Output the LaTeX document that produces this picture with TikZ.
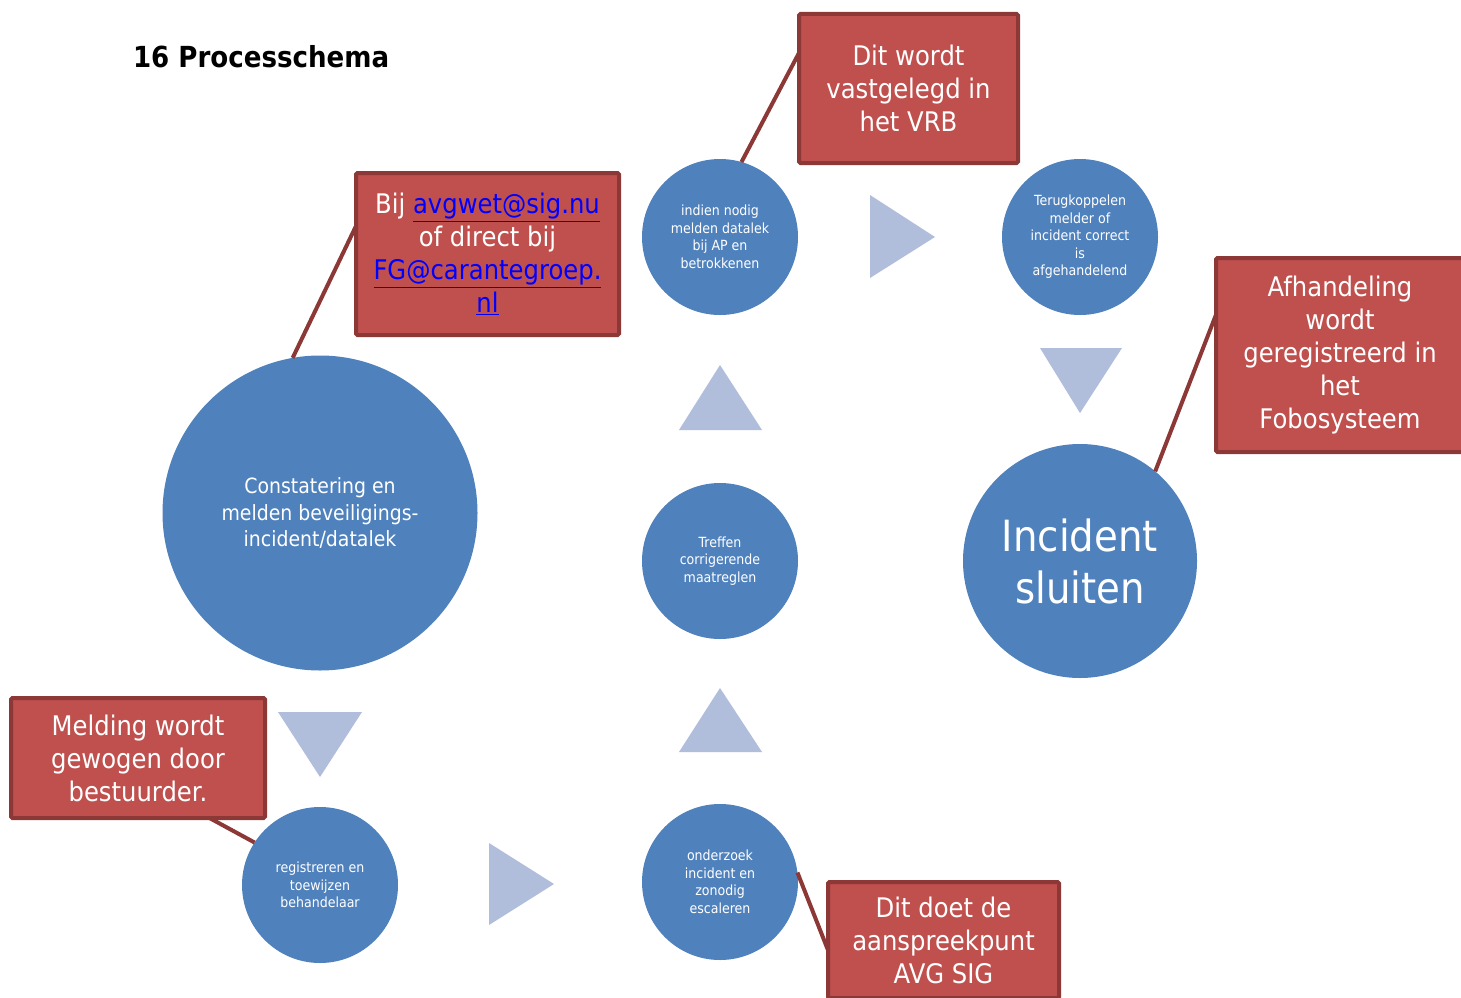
\documentclass[tikz,border=0pt]{standalone}
\usepackage{fontspec}
\setmainfont{DejaVu Sans}[FakeStretch=0.9]
\definecolor{stapblauw}{HTML}{4F81BD}
\definecolor{pijlblauw}{HTML}{B0BEDC}
\definecolor{notitierood}{HTML}{C0504D}
\definecolor{notitierand}{HTML}{8C3836}
\newcommand{\linktekst}[1]{\textcolor{blue}{\underline{#1}}}

\begin{document}
\begin{tikzpicture}[x=1pt,y=-1pt,
    every node/.style={inner sep=0pt, outer sep=0pt, align=center},
    stap/.style={circle, fill=stapblauw, text=white, minimum size=156pt, font=\fontsize{14}{17.5}\selectfont},
    notitie/.style={draw=notitierand, fill=notitierood, line width=4pt, rounded corners=1.5pt, text=white, font=\fontsize{27}{33}\selectfont},
    lijn/.style={draw=notitierand, line width=4pt},
    pijl/.style={fill=pijlblauw}]
    \useasboundingbox (0,0) rectangle (1461,998);
    \fill[white] (0,0) rectangle (1461,998);
    \node[anchor=base west, font=\bfseries\fontsize{29}{35}\selectfont] (titel) at (133,67) {16 Processchema};

    % stappen
    \node[stap, minimum size=315pt, font=\fontsize{21}{26.5}\selectfont] (constatering) at (320,513) {Constatering en\\melden beveiligings-\\incident/datalek};
    \node[stap] (registreren) at (320,885) {registreren en\\toewijzen\\behandelaar};
    \node[stap] (onderzoek) at (720,882) {onderzoek\\incident en\\zonodig\\escaleren};
    \node[stap] (treffen) at (720,561) {Treffen\\corrigerende\\maatreglen};
    \node[stap] (melden) at (720,237) {indien nodig\\melden datalek\\bij AP en\\betrokkenen};
    \node[stap] (terug) at (1080,237) {Terugkoppelen\\melder of\\incident correct\\is\\afgehandelend};
    \node[stap, minimum size=234pt, font=\fontsize{43}{52}\selectfont] (sluiten) at (1080,561) {Incident\\sluiten};

    % pijlen
    \fill[pijl] (278,712) -- (362,712) -- (320,777) -- cycle;
    \fill[pijl] (489,843) -- (554,884) -- (489,925) -- cycle;
    \fill[pijl] (679,752) -- (762,752) -- (720,688) -- cycle;
    \fill[pijl] (679,430) -- (762,430) -- (720,365) -- cycle;
    \fill[pijl] (870,195) -- (935,237) -- (870,278) -- cycle;
    \fill[pijl] (1040,348) -- (1122,348) -- (1080,413) -- cycle;

    % notities
    \node[notitie, minimum width=263pt, minimum height=162pt] (bij) at (487.5,254) {Bij \linktekst{avgwet@sig.nu}\\of direct bij\\\linktekst{FG@carantegroep.}\\\linktekst{nl}};
    \node[notitie, minimum width=219pt, minimum height=149pt] (vrb) at (908.5,88.5) {Dit wordt\\vastgelegd in\\het VRB};
    \node[notitie, minimum width=248pt, minimum height=194pt] (afh) at (1340,355) {Afhandeling\\wordt\\geregistreerd in\\het\\Fobosysteem};
    \node[notitie, minimum width=254pt, minimum height=120pt] (meld) at (138,758) {Melding wordt\\gewogen door\\bestuurder.};
    \node[notitie, minimum width=231pt, minimum height=116pt] (doet) at (943.5,940) {Dit doet de\\aanspreekpunt\\AVG SIG};

    \draw[lijn] (bij.168) -- (constatering.100);
    \draw[lijn] (vrb.162) -- (melden.74);
    \draw[lijn] (afh.162) -- (sluiten.50);
    \draw[lijn] (meld.-40) -- (registreren.147);
    \draw[lijn] (doet.185) -- (onderzoek.7);
\end{tikzpicture}
\end{document}
